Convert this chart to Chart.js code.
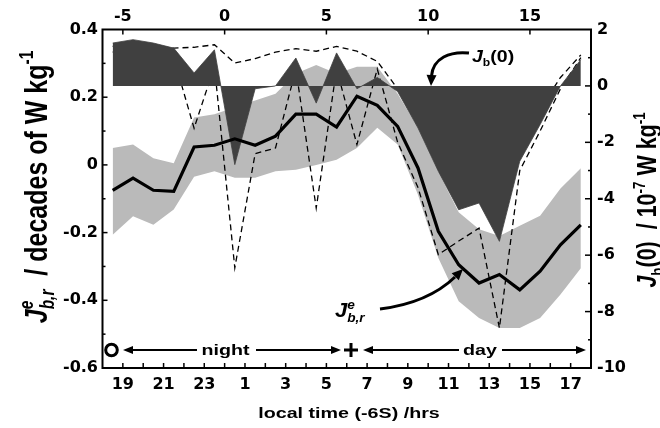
<!DOCTYPE html>
<html>
<head>
<meta charset="utf-8">
<script src="https://cdn.jsdelivr.net/npm/chart.js@4.4.0/dist/chart.umd.min.js"></script>
<style>
  html, body { margin: 0; padding: 0; background: #fff; }
  #wrap { width: 660px; height: 428px; }
</style>
</head>
<body>
<div id="wrap"><canvas id="chart" width="660" height="428"></canvas></div>
<script>
// Hours relative to local midnight (top axis); bottom axis shows the clock hour.
const hourOffsets = [-5.5, -4.5, -3.5, -2.5, -1.5, -0.5, 0.5, 1.5, 2.5, 3.5, 4.5, 5.5,
                     6.5, 7.5, 8.5, 9.5, 10.5, 11.5, 12.5, 13.5, 14.5, 15.5, 16.5, 17.5];

// J^e_{b,r} (decades of W kg^-1): mean and its shaded range
const jbrMean = [-0.075, -0.039, -0.075, -0.078, 0.053, 0.058, 0.077, 0.058, 0.085, 0.150, 0.150, 0.112,
                 0.203, 0.176, 0.114, -0.009, -0.196, -0.295, -0.349, -0.324, -0.369, -0.314, -0.236, -0.177];
const jbrHigh = [0.05, 0.06, 0.02, 0.005, 0.14, 0.15, 0.17, 0.19, 0.21, 0.27, 0.295, 0.27,
                 0.29, 0.29, 0.21, 0.11, -0.02, -0.14, -0.19, -0.21, -0.18, -0.15, -0.07, -0.01];
const jbrLow  = [-0.206, -0.152, -0.177, -0.132, -0.035, -0.019, -0.038, -0.038, -0.019, -0.014, 0.0, 0.015,
                 0.05, 0.11, 0.06, -0.088, -0.275, -0.403, -0.452, -0.482, -0.482, -0.452, -0.383, -0.305];

// J_b(0) (10^-7 W kg^-1) and its upper / lower bounds
const jb0      = [1.52, 1.64, 1.52, 1.34, 0.46, 1.28, -2.79, -0.1, 0.0, 0.99, -0.61, 1.17,
                  -0.1, 0.3, -0.2, -1.49, -3.03, -4.39, -4.15, -5.51, -2.67, -1.37, 0.0, 0.93];
const jb0Upper = [1.40, 1.45, 1.40, 1.34, 1.37, 1.46, 0.81, 0.97, 1.20, 1.32, 1.23, 1.40,
                  1.23, 0.87, -0.1, -0.9, -1.8, -2.5, -2.4, -3.0, -1.6, -0.8, 0.3, 1.1];
const jb0Lower = [1.2, 1.3, 1.2, 1.0, -1.5, 0.7, -6.45, -2.4, -2.2, 0.6, -4.33, 0.6,
                  -2.08, 0.6, -2.0, -3.6, -5.98, -5.5, -5.04, -8.58, -3.0, -1.6, -0.1, 1.0];

// Axis ticks
const bottomTickValues = [-5, -3, -1, 1, 3, 5, 7, 9, 11, 13, 15, 17];
const bottomTickLabels = ['19', '21', '23', '1', '3', '5', '7', '9', '11', '13', '15', '17'];
const topTickValues = [-5, 0, 5, 10, 15];
const topTickLabels = ['-5', '0', '5', '10', '15'];
const leftTickValues = [-0.6, -0.4, -0.2, 0, 0.2, 0.4];
const leftTickLabels = ['-0.6', '-0.4', '-0.2', '0', '0.2', '0.4'];
const rightTickValues = [-10, -8, -6, -4, -2, 0, 2];
const rightTickLabels = ['-10', '-8', '-6', '-4', '-2', '0', '2'];

const pts = arr => hourOffsets.map((h, i) => ({ x: h, y: arr[i] }));

const TICK_FONT = { family: 'DejaVu Sans', size: 16, weight: 'bold' };
const TEXT_FAMILY = '"Liberation Sans", Arial, sans-serif';
const STRETCH = 1.27;

// Lay out a run of text pieces (italic / superscript / subscript)
function layoutRich(ctx, parts, size) {
  let x = 0, lastStart = 0;
  const items = [];
  for (const p of parts) {
    const s = (p.sup || p.sub) ? size * 0.62 : size;
    const font = `${p.i ? 'italic ' : ''}bold ${s}px ${TEXT_FAMILY}`;
    ctx.font = font;
    const w = ctx.measureText(p.t).width;
    const start = p.stack ? lastStart : x;
    const dy = p.sup ? -size * 0.42 : (p.sub ? size * 0.24 : 0);
    items.push({ t: p.t, font, x: start, dy });
    x = p.stack ? Math.max(x, start + w) : start + w;
    lastStart = start;
  }
  return { items, width: x };
}

function drawRich(ctx, parts, px, py, { size, rotate = 0, align = 'center', sx = STRETCH }) {
  const L = layoutRich(ctx, parts, size);
  ctx.save();
  ctx.translate(px, py);
  ctx.scale(sx, 1);
  if (rotate) ctx.rotate(rotate);
  const x0 = align === 'center' ? -L.width / 2 : 0;
  ctx.textBaseline = 'alphabetic';
  ctx.textAlign = 'left';
  ctx.fillStyle = '#000';
  for (const it of L.items) {
    ctx.font = it.font;
    ctx.fillText(it.t, x0 + it.x, it.dy);
  }
  ctx.restore();
}

function arrowHead(ctx, tipX, tipY, dirX, dirY, len, half) {
  const n = Math.hypot(dirX, dirY);
  const ux = dirX / n, uy = dirY / n;
  const bx = tipX - ux * len, by = tipY - uy * len;
  ctx.beginPath();
  ctx.moveTo(tipX, tipY);
  ctx.lineTo(bx - uy * half, by + ux * half);
  ctx.lineTo(bx + uy * half, by - ux * half);
  ctx.closePath();
  ctx.fill();
}

function hArrow(ctx, x1, x2, y) {
  // shaft from x1 to x2 with a head at x2
  const dir = Math.sign(x2 - x1);
  ctx.beginPath();
  ctx.moveTo(x1, y);
  ctx.lineTo(x2 - dir * 8, y);
  ctx.stroke();
  arrowHead(ctx, x2, y, dir, 0, 10, 4);
}

const decor = {
  id: 'decor',
  afterDatasetsDraw(chart) {
    const { ctx, chartArea: a, scales } = chart;
    ctx.save();
    ctx.strokeStyle = '#000';
    ctx.fillStyle = '#000';
    ctx.lineCap = 'butt';

    // frame
    ctx.lineWidth = 2;
    ctx.strokeRect(a.left, a.top, a.right - a.left, a.bottom - a.top);

    // inward tick marks
    ctx.lineWidth = 1.5;
    const seg = (x1, y1, x2, y2) => { ctx.beginPath(); ctx.moveTo(x1, y1); ctx.lineTo(x2, y2); ctx.stroke(); };
    for (let h = -5; h <= 17; h++) {
      const x = scales.x.getPixelForValue(h);
      seg(x, a.bottom, x, a.bottom - 5);
    }
    topTickValues.forEach(v => {
      const x = scales.xTop.getPixelForValue(v);
      seg(x, a.top, x, a.top + 5);
    });
    for (let v = -5; v <= 3; v++) {
      const y = scales.y.getPixelForValue(v / 10);
      seg(a.left, y, a.left + (v % 2 === 0 ? 5 : 3), y);
    }
    for (let v = -9; v <= 1; v++) {
      const y = scales.y2.getPixelForValue(v);
      seg(a.right, y, a.right - (v % 2 === 0 ? 6 : 3), y);
    }

    // night / day markers along the bottom
    const yb = 350;
    ctx.lineWidth = 3;
    ctx.beginPath();
    ctx.arc(111.5, yb, 5.8, 0, Math.PI * 2);
    ctx.stroke();
    ctx.lineWidth = 2;
    hArrow(ctx, 197, 123, yb);
    hArrow(ctx, 256, 341, yb);
    hArrow(ctx, 459, 363, yb);
    hArrow(ctx, 502, 586, yb);
    ctx.lineWidth = 3;
    seg(344, yb, 358, yb);
    seg(351, yb - 7, 351, yb + 7);

    drawRich(ctx, [{ t: 'night' }], 225.5, 355, { size: 15.5 });
    drawRich(ctx, [{ t: 'day' }], 480, 355, { size: 15.5 });

    // J_b(0) label with curved arrow
    drawRich(ctx, [{ t: 'J', i: 1 }, { t: 'b', sub: 1 }, { t: '(0)' }], 472, 61.5, { size: 17, align: 'left', sx: 1.15 });
    ctx.lineWidth = 3;
    ctx.beginPath();
    ctx.moveTo(469, 53);
    ctx.bezierCurveTo(450, 51, 433, 58, 431.5, 76);
    ctx.stroke();
    arrowHead(ctx, 431, 86, -0.05, 1, 11, 5);

    // J^e_{b,r} label with curved arrow
    drawRich(ctx, [{ t: 'J', i: 1 }, { t: 'e', i: 1, sup: 1 }, { t: 'b,r', i: 1, sub: 1, stack: 1 }], 335, 317,
             { size: 20, align: 'left', sx: 1.1 });
    ctx.lineWidth = 3;
    ctx.beginPath();
    ctx.moveTo(380, 309);
    ctx.quadraticCurveTo(428, 303, 455, 277);
    ctx.stroke();
    arrowHead(ctx, 463, 269, 1, -1, 11, 5);

    // axis titles
    drawRich(ctx, [{ t: 'local time (-6S) /hrs' }], 349, 418, { size: 15.5 });
    drawRich(ctx, [{ t: 'J', i: 1 }, { t: 'e', i: 1, sup: 1 }, { t: 'b,r', i: 1, sub: 1, stack: 1 },
                   { t: '  / decades of W kg' }, { t: '-1', sup: 1 }],
             46.5, 187, { size: 25, rotate: -Math.PI / 2 });
    drawRich(ctx, [{ t: 'J', i: 1 }, { t: 'b', sub: 1 }, { t: '(0)  / 10' }, { t: '-7', sup: 1 },
                   { t: ' W kg' }, { t: '-1', sup: 1 }],
             656, 200, { size: 21.5, rotate: -Math.PI / 2 });

    ctx.restore();
  }
};

const fixedTicks = (values) => (scale) => { scale.ticks = values.map(v => ({ value: v })); };

new Chart(document.getElementById('chart'), {
  type: 'line',
  data: {
    datasets: [
      { label: 'mean', data: pts(jbrMean), xAxisID: 'x', yAxisID: 'y',
        borderColor: '#000', borderWidth: 3.2, pointRadius: 0, fill: false, order: 0 },
      { label: 'Jb0', data: pts(jb0), xAxisID: 'x', yAxisID: 'y2',
        borderColor: '#404040', borderWidth: 0.8, backgroundColor: '#404040',
        pointRadius: 0, fill: { value: 0 }, order: 1 },
      { label: 'Jb0 upper', data: pts(jb0Upper), xAxisID: 'x', yAxisID: 'y2',
        borderColor: '#000', borderWidth: 1.3, borderDash: [6, 4], pointRadius: 0, fill: false, order: 2 },
      { label: 'Jb0 lower', data: pts(jb0Lower), xAxisID: 'x', yAxisID: 'y2',
        borderColor: '#000', borderWidth: 1.3, borderDash: [6, 4], pointRadius: 0, fill: false, order: 2 },
      { label: 'range high', data: pts(jbrHigh), xAxisID: 'x', yAxisID: 'y',
        borderWidth: 0, borderColor: 'rgba(0,0,0,0)', backgroundColor: '#bababa',
        pointRadius: 0, fill: '+1', order: 3 },
      { label: 'range low', data: pts(jbrLow), xAxisID: 'x', yAxisID: 'y',
        borderWidth: 0, borderColor: 'rgba(0,0,0,0)', pointRadius: 0, fill: false, order: 4 }
    ]
  },
  options: {
    responsive: false,
    animation: false,
    devicePixelRatio: 1,
    layout: { padding: 0 },
    plugins: { legend: { display: false }, tooltip: { enabled: false } },
    elements: { line: { tension: 0 } },
    scales: {
      x: {
        type: 'linear', position: 'bottom', min: -6, max: 18,
        grid: { display: false, drawTicks: false }, border: { display: false },
        afterBuildTicks: fixedTicks(bottomTickValues),
        afterFit: s => { s.height = 60; },
        ticks: { font: TICK_FONT, color: '#000', padding: 7, autoSkip: false, maxRotation: 0,
                 callback: (v, i) => bottomTickLabels[i] }
      },
      xTop: {
        type: 'linear', position: 'top', min: -6, max: 18,
        grid: { display: false, drawTicks: false }, border: { display: false },
        afterBuildTicks: fixedTicks(topTickValues),
        afterFit: s => { s.height = 29.5; },
        ticks: { font: TICK_FONT, color: '#000', padding: 3.5, autoSkip: false, maxRotation: 0,
                 callback: (v, i) => topTickLabels[i] }
      },
      y: {
        type: 'linear', position: 'left', min: -0.6, max: 0.4,
        grid: { display: false, drawTicks: false }, border: { display: false },
        afterBuildTicks: fixedTicks(leftTickValues),
        afterFit: s => { s.width = 102.5; },
        ticks: { font: TICK_FONT, color: '#000', padding: 4.5, autoSkip: false,
                 callback: (v, i) => leftTickLabels[i] }
      },
      y2: {
        type: 'linear', position: 'right', min: -10, max: 2,
        grid: { display: false, drawTicks: false }, border: { display: false },
        afterBuildTicks: fixedTicks(rightTickValues),
        afterFit: s => { s.width = 69; },
        ticks: { font: TICK_FONT, color: '#000', padding: 6, autoSkip: false,
                 callback: (v, i) => rightTickLabels[i] }
      }
    }
  },
  plugins: [decor]
});
</script>
</body>
</html>
